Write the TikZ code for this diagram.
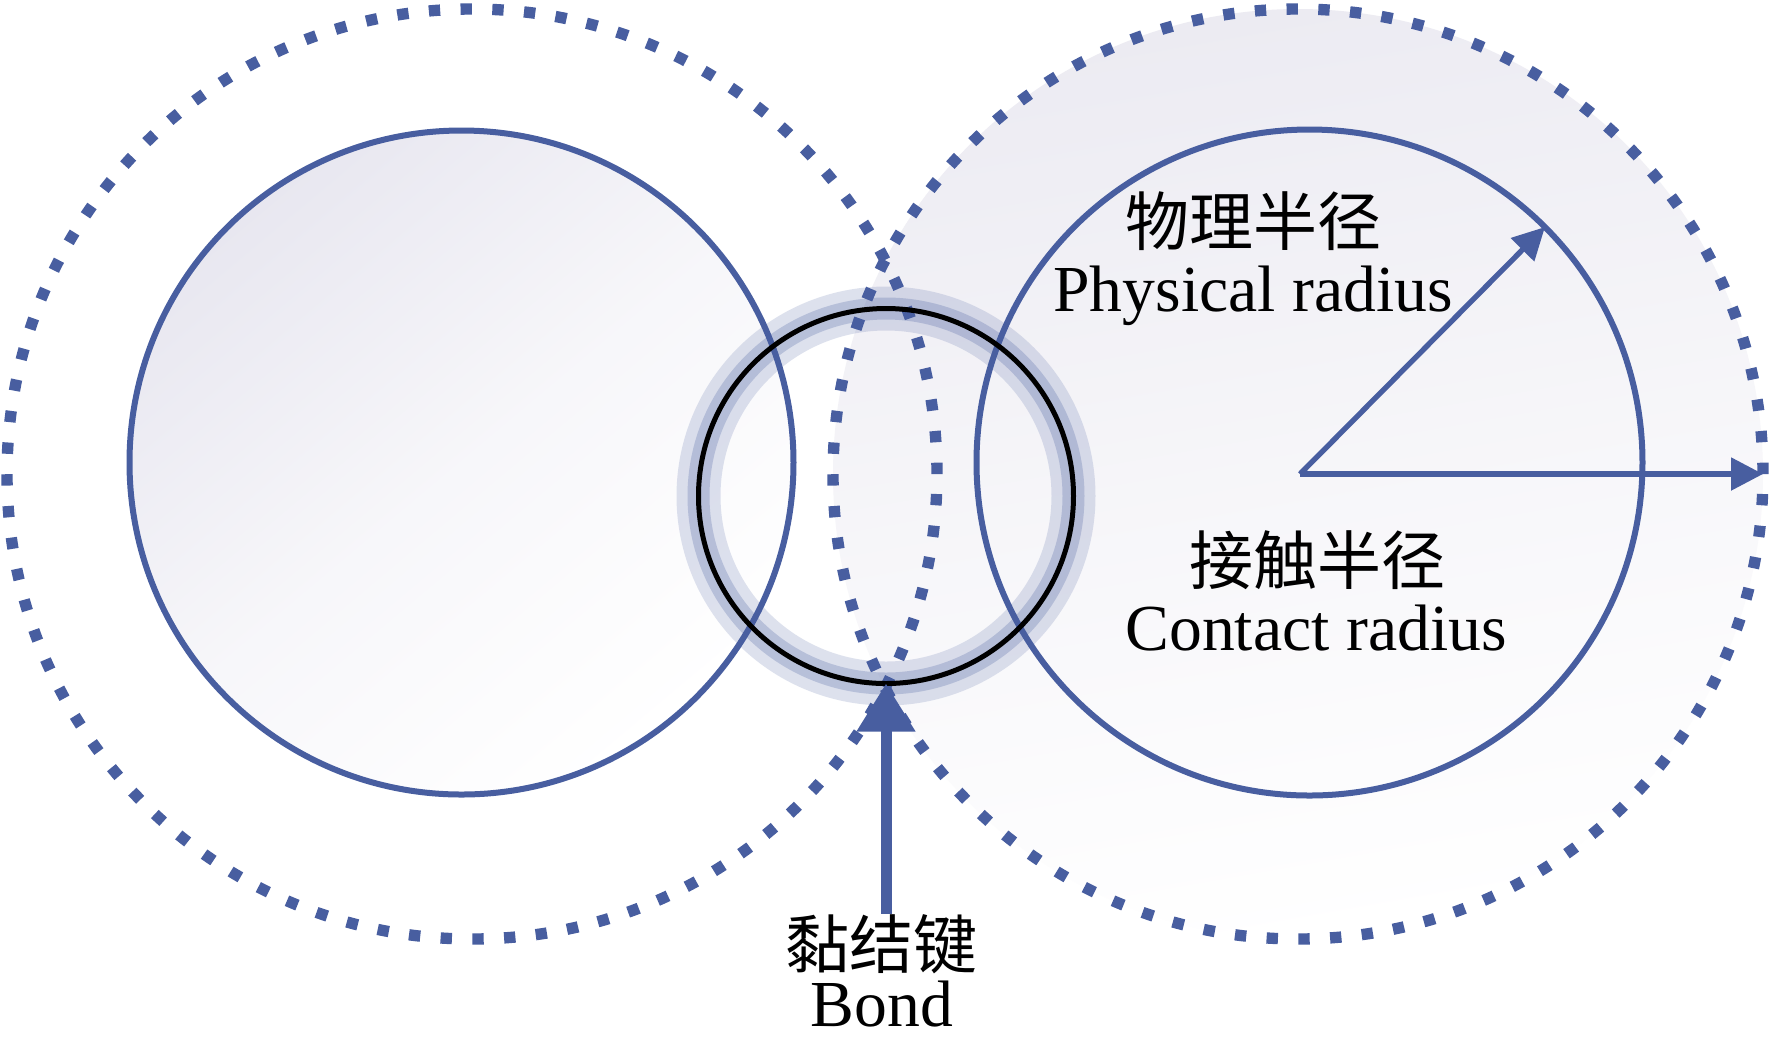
\documentclass[tikz,border=0pt]{standalone}
\usepackage{fontspec}
\setmainfont{Liberation Serif}
\newfontfamily\cjk{Noto Sans CJK SC}
\usetikzlibrary{arrows.meta}
\definecolor{pblue}{RGB}{72,94,160}
\definecolor{lav}{RGB}{232,231,240}
\definecolor{lavr}{RGB}{236,235,242}
\tikzset{
  solidc/.style={circle, draw=pblue, line width=1.8pt, inner sep=0pt, outer sep=0pt},
  dotc/.style={circle, draw=pblue, line width=3.4pt, dash pattern=on 3.4pt off 6.13pt,
               inner sep=0pt, outer sep=0pt, minimum size=279pt},
  bondc/.style={circle, draw=black, line width=1.5pt, inner sep=0pt, outer sep=0pt, minimum size=112.5pt},
  haloc/.style={circle, draw=pblue, inner sep=0pt, outer sep=0pt, minimum size=112.5pt},
  radarrow/.style={draw=pblue, line width=1.6pt, -{Triangle[length=9.6pt,width=9.6pt]}},
  bondarrow/.style={draw=pblue, line width=3.3pt, -{Triangle[length=14.4pt,width=16.8pt]}},
  lbl/.style={inner sep=0pt, font=\fontsize{19.7}{22}\selectfont},
  cjklbl/.style={inner sep=0pt, font=\cjk\fontsize{19.2}{22}\selectfont}
}
\begin{document}
\begin{tikzpicture}[x=0.3pt,y=-0.3pt]
  \useasboundingbox (0,0) rectangle (1773,1041);
  \fill[white] (0,0) rectangle (1773,1041);
  % dotted (contact) circles
  \node[dotc, top color=lavr, bottom color=white, middle color=white!55!lavr, shading angle=10] (rd) at (1298,474) {};
  \node[dotc] (ld) at (472,474) {};
  % solid (physical) circles
  \node[solidc, minimum size=199.2pt, top color=lav, bottom color=white, middle color=white!65!lav, shading angle=40] (ls) at (461.5,462.5) {};
  \node[solidc, minimum size=199.8pt] (rs) at (1309.5,462.5) {};
  % bond halo and circle
  \node[haloc, line width=13.2pt, draw opacity=0.18] (halo1) at (886,496) {};
  \node[haloc, line width=6.6pt, draw opacity=0.25] (halo2) at (886,496) {};
  \node[bondc] (bc) at (886,496) {};
  % radius arrows
  \coordinate (O) at (1300,474);
  \draw[radarrow] (O) -- (rs.45);
  \draw[radarrow] (O) -- (rd.east);
  % labels
  \node[cjklbl] (t1) at (1253,221) {物理半径};
  \node[lbl, anchor=base] (t2) at (1253,311) {Physical radius};
  \node[cjklbl] (t3) at (1317,560) {接触半径};
  \node[lbl, anchor=base] (t4) at (1316,650) {Contact radius};
  \node[cjklbl] (t5) at (881,944) {黏结键};
  \node[lbl, anchor=base] (t6) at (882,1026) {Bond};
  % bond arrow
  \draw[bondarrow] (bc.south |- t5.north) -- (bc.south);
\end{tikzpicture}
\end{document}
